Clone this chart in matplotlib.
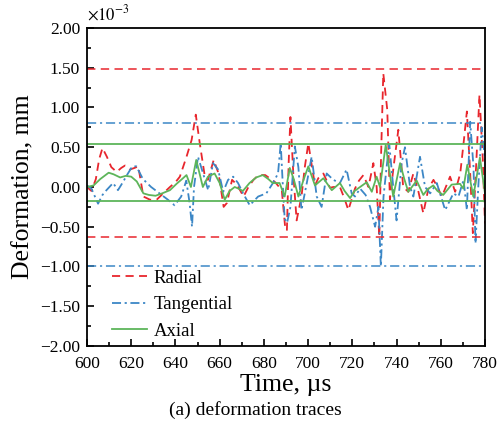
import matplotlib
matplotlib.use("Agg")
import matplotlib.pyplot as plt
from matplotlib.ticker import MultipleLocator, FuncFormatter

plt.rcParams['font.family'] = ['Liberation Serif', 'DejaVu Serif']
plt.rcParams['mathtext.fontset'] = 'stix'

# values in units of 1e-3 mm
radial_t = [600, 602, 604, 605.5, 607, 609, 611, 613.4, 615.5, 617.2, 619.4, 621.5, 623.2, 625.5, 628.5,
            631.5, 634.5, 637.5, 640, 642, 645, 647.3, 649.2, 651, 653.3, 654.7, 657.3, 659.5, 661.8, 663.3,
            665.6, 667.8, 670.8, 673, 675.3, 677.6, 680.6, 683.6, 685.1, 688.1, 689.6, 690.4, 691.2, 692,
            693.3, 694.8, 697, 698.5, 700.1, 701.5, 703.1, 704.6, 706.9, 709.9, 711.4, 714.4, 716.5, 718.2,
            721.2, 723, 725, 727.3, 729.5, 731, 732.2, 733, 734, 735.8, 737, 738.5, 740.8, 743, 745.3, 747.6,
            749.9, 752.1, 754.4, 756.7, 758.5, 760.5, 764.2, 766.5, 768.8, 770.5, 771.8, 773.3, 774.5, 776.3,
            777.5, 779, 780]
radial_v = [0.00, -0.05, 0.10, 0.35, 0.49, 0.38, 0.25, 0.19, 0.24, 0.27, 0.22, 0.24, 0.26, -0.12, -0.16,
            -0.16, -0.08, 0.00, 0.06, 0.13, 0.38, 0.59, 0.91, 0.55, 0.13, 0.09, 0.34, 0.17, -0.25, -0.20,
            0.09, 0.03, -0.12, 0.00, 0.09, 0.15, 0.15, 0.09, 0.06, -0.04, -0.50, -0.55, 0.30, 0.88,
            0.17, -0.42, -0.12, 0.25, 0.55, 0.30, 0.02, 0.11, 0.17, -0.01, 0.00, 0.00, -0.15, -0.29,
            -0.02, 0.08, 0.15, 0.00, 0.30, 0.00, -0.63, 0.40, 1.43, 0.97, -0.16, 0.22, 0.72, 0.00, -0.06, 0.17,
            -0.06, -0.33, -0.02, 0.09, 0.00, -0.12, 0.13, -0.06, 0.17, 0.60, 0.95, 0.17, -0.58, 0.45,
            1.16, 0.35, -0.46]

tang_t = [600, 602, 605, 607, 608.8, 611.8, 614, 616, 618.5, 620.5, 622.3, 625.3, 629, 632.8, 636.6, 639.6,
          642.6, 644.9, 646.4, 647.5, 648.4, 650.2, 652.5, 654.8, 657, 659.3, 661.6, 663.8, 666.1, 668.3,
          670.6, 673.6, 677.4, 681.1, 684.1, 686.4, 687.6, 688.6, 689.4, 690.5, 692, 694, 695.6, 697, 699.4,
          701.6, 703.9, 706.1, 708.4, 711.4, 714.4, 717.4, 719.7, 721.2, 723.5, 726, 728, 730.3, 731.8,
          732.9, 734.1, 735.5, 736.7, 738.5, 740, 742.3, 743.8, 746.1, 747.6, 750.6, 752.9, 755.2, 758.2,
          762, 765.7, 768, 770.3, 771.8, 773.3, 774.8, 775.7, 777, 778.5, 780]
tang_v = [0.02, -0.02, -0.21, -0.10, -0.04, 0.05, -0.04, 0.05, 0.17, 0.26, 0.26, 0.10, 0.00, -0.08, -0.16, -0.23,
          -0.12, 0.08, -0.20, -0.50, 0.00, 0.38, 0.17, -0.04, 0.30, 0.22, -0.06, 0.09, 0.13, 0.05,
          -0.08, -0.23, -0.12, -0.08, 0.05, 0.17, 0.55, 0.00, -0.40, -0.45, -0.25, 0.51, 0.25, -0.29, 0.05,
          0.38, -0.12, -0.25, 0.17, 0.09, 0.05, 0.22, -0.08, -0.12, -0.02, -0.10, -0.25, -0.50, -0.25,
          -1.00, -0.12, 0.25, 0.54, 0.00, -0.42, 0.30, 0.50, 0.00, -0.12, 0.38, 0.00, -0.08, 0.05,
          -0.29, -0.08, -0.12, 0.09, -0.29, 0.82, 0.25, -0.71, 0.02, 0.75, 0.34]

axial_t = [600, 603, 606, 609.8, 612, 615, 617.5, 620, 622.5, 625.5, 628, 631, 634, 637.5, 640.5, 643, 645,
           647, 649.4, 652.4, 654.7, 657.7, 660, 662.3, 664.5, 666.8, 668.5, 670.5, 673.5, 676.5, 679.5,
           682, 684, 687.1, 689.4, 691.7, 693.5, 695.6, 697.8, 700.1, 703.1, 706.9, 710.7, 714.4, 716.5,
           719, 721, 723.5, 726.5, 728.8, 731, 732.5, 735.1, 736.8, 738.5, 741.6, 743.5, 745.3, 749.1,
           752.1, 754, 756.6, 758.5, 761.1, 764.9, 768.7, 770.2, 772, 774.7, 777.7, 780]
axial_v = [0.00, 0.02, 0.10, 0.18, 0.16, 0.12, 0.14, 0.13, 0.07, -0.08, -0.10, -0.11, -0.08, -0.04, 0.04, 0.10, 0.15,
           0.00, 0.34, 0.00, 0.13, 0.17, 0.05, -0.16, -0.05, 0.00, -0.02, -0.05, 0.05, 0.12, 0.15,
           0.10, 0.05, 0.05, -0.12, 0.24, 0.10, -0.12, 0.08, 0.26, 0.02, 0.11, -0.04, 0.05, -0.05,
           -0.14, -0.05, 0.00, 0.06, -0.06, 0.13, 0.00, 0.53, 0.20, -0.12, 0.30, 0.10, -0.06, 0.08,
           -0.10, -0.03, 0.02, -0.05, -0.10, 0.03, 0.04, -0.02, 0.28, -0.12, 0.37, -0.08]

radial_limits = [1.48, -0.63]
tang_limits = [0.81, -1.00]
axial_limits = [0.54, -0.18]

labels = ['Radial', 'Tangential', 'Axial']
c_red = '#e8262d'
c_blue = '#3c87c6'
c_green = '#5db55a'

fig = plt.figure(figsize=(4.98, 4.25), dpi=100)
ax = fig.add_axes([87/498, 1-346/425, 398/498, 318/425])

lw = 1.3
dash_r = (4.5, 3.0)
dash_b = (5.0, 2.0, 1.2, 2.0)

l1, = ax.plot(radial_t, radial_v, color=c_red, lw=lw, dashes=dash_r, label=labels[0])
l2, = ax.plot(tang_t, tang_v, color=c_blue, lw=lw, dashes=dash_b, label=labels[1])
l3, = ax.plot(axial_t, axial_v, color=c_green, lw=lw, label=labels[2])

for v in radial_limits:
    ax.axhline(v, color=c_red, lw=1.1, dashes=(5.5, 3.5))
for v in tang_limits:
    ax.axhline(v, color=c_blue, lw=1.1, dashes=(6.0, 2.5, 1.4, 2.5))
for v in axial_limits:
    ax.axhline(v, color=c_green, lw=1.3)

ax.set_xlim(600, 780)
ax.set_ylim(-2.0, 2.0)
ax.xaxis.set_major_locator(MultipleLocator(20))
ax.xaxis.set_minor_locator(MultipleLocator(10))
ax.yaxis.set_major_locator(MultipleLocator(0.5))
ax.yaxis.set_minor_locator(MultipleLocator(0.25))
ax.yaxis.set_major_formatter(FuncFormatter(lambda v, p: ('%.2f' % v).replace('-', '\u2212')))
ax.tick_params(which='both', direction='in', top=False, right=False, labelsize=12.5, width=1.2)
ax.tick_params(axis='y', which='major', pad=5)
ax.tick_params(axis='x', which='major', pad=7)
ax.tick_params(which='major', length=5)
ax.tick_params(which='minor', length=3)
for s in ax.spines.values():
    s.set_linewidth(1.3)

ax.set_xlabel('Time, µs', fontsize=18.5, labelpad=2)
ax.set_ylabel('Deformation, mm', fontsize=18.5, labelpad=4)
ax.text(0.0, 1.012, r'$\times10^{-3}$', transform=ax.transAxes, fontsize=12, ha='left', va='bottom')

fig.text(0.512, 1-410/425, '(a) deformation traces', fontsize=14, ha='center', va='center')

ax.legend(handles=[l1, l2, l3], loc='lower left', bbox_to_anchor=(0.062, 0.02), frameon=False,
          fontsize=13.5, handlelength=1.9, handletextpad=0.35, labelspacing=0.5,
          borderpad=0, borderaxespad=0)

fig.savefig('out.png', dpi=100)
